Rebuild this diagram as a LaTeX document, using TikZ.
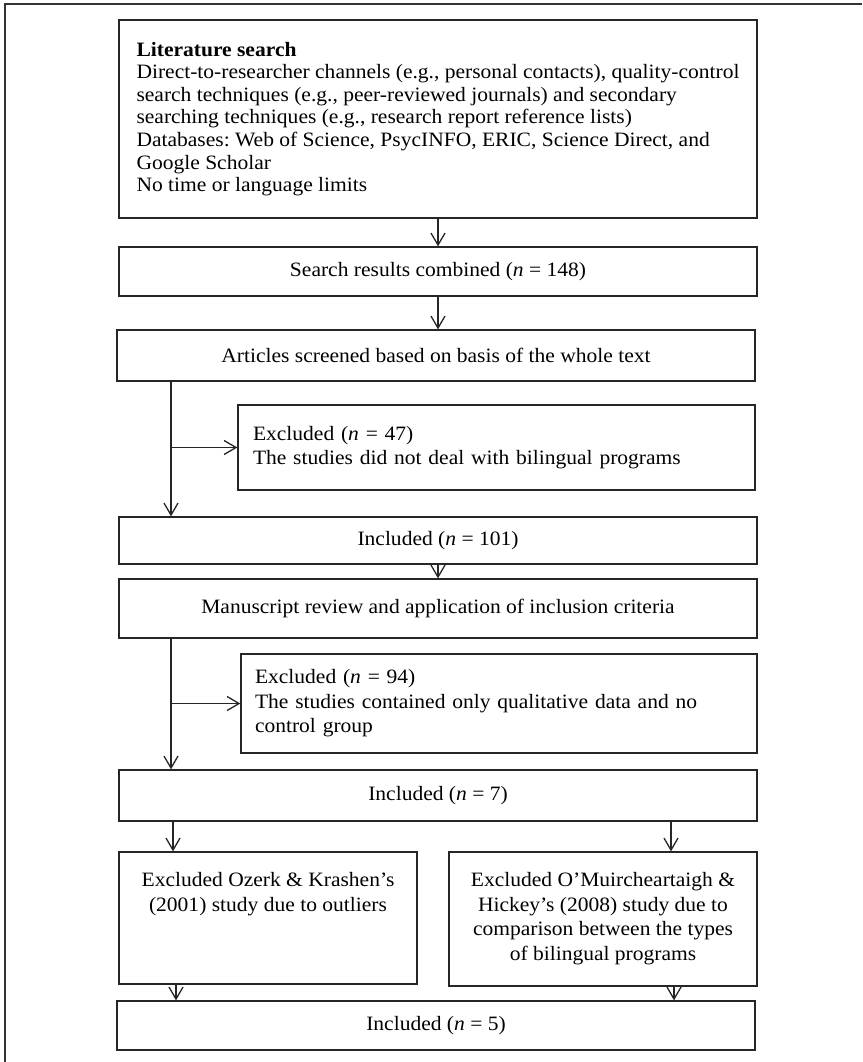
\documentclass[tikz,border=0pt]{standalone}
\usepackage{fontspec}
\setmainfont{Liberation Serif}[FakeStretch=1.055]
\usetikzlibrary{arrows.meta}
\frenchspacing
\begin{document}
\begin{tikzpicture}[x=1pt,y=-1pt,
  frame/.style={draw=black!80, line width=1.3pt},
  box/.style={draw=black!85, line width=1.3pt, inner sep=0pt, font=\fontsize{20.4}{24.5}\selectfont\frenchspacing},
  txt/.style={inner sep=0pt, font=\fontsize{20.4}{24.5}\selectfont\frenchspacing},
  arr/.style={draw=black!85, line width=1.3pt, -{Straight Barb[length=12pt,width=14pt,line width=1.3pt]}}
]
\useasboundingbox (0,0) rectangle (862,1062);
\draw[frame] (5,1062) -- (5,4) -- (862,4);

\node[box, minimum width=638pt, minimum height=198pt, align=left,
      font=\fontsize{20.4}{22.6}\selectfont\frenchspacing] (b1) at (438,119)
 {\textbf{Literature search}\\
  Direct-to-researcher channels (e.g., personal contacts), quality-control\\
  search techniques (e.g., peer-reviewed journals) and secondary\\
  searching techniques (e.g., research report reference lists)\\
  Databases: Web of Science, PsycINFO, ERIC, Science Direct, and\\
  Google Scholar\\
  No time or language limits};

\node[box, minimum width=638pt, minimum height=49pt] (b2) at (438,271.5)
 {Search results combined (\textit{n} = 148)};
\node[box, minimum width=638pt, minimum height=51pt] (b3) at (436,355.5)
 {Articles screened based on basis of the whole text};
\node[box, minimum width=517pt, minimum height=85pt, text width=487pt, align=left] (e1) at (496.5,447.5)
 {Excluded (\textit{n} = 47)\\The studies did not deal with bilingual programs};
\node[box, minimum width=638pt, minimum height=47pt] (i1) at (438,540.5)
 {Included (\textit{n} = 101)};
\node[box, minimum width=638pt, minimum height=59pt] (m) at (438,608.5)
 {Manuscript review and application of inclusion criteria};
\node[box, minimum width=516pt, minimum height=99pt, text width=488pt, align=left] (e2) at (499,703.5)
 {Excluded (\textit{n} = 94)\\The studies contained only qualitative data and no\\control group};
\node[box, minimum width=638pt, minimum height=51pt] (i2) at (438,795.5)
 {Included (\textit{n} = 7)};
\node[box, minimum width=298pt, minimum height=132pt] (oz) at (268,918) {};
\node[txt, anchor=north, align=center] (ozt) at ([yshift=-21pt]oz.north)
 {Excluded Ozerk \& Krashen’s\\(2001) study due to outliers};
\node[box, minimum width=308pt, minimum height=134pt] (om) at (603,919) {};
\node[txt, anchor=north, align=center] (omt) at ([yshift=-21pt]om.north)
 {Excluded O’Muircheartaigh \&\\Hickey’s (2008) study due to\\comparison between the types\\of bilingual programs};
\node[box, minimum width=638pt, minimum height=49pt] (i3) at (436,1025.5)
 {Included (\textit{n} = 5)};

\coordinate (cL) at (171,0);
\coordinate (cA) at (173,0);
\coordinate (cB) at (671,0);
\coordinate (cC) at (176,0);
\coordinate (cD) at (674,0);

\draw[arr] (b1.south) -- (b1.south |- b2.north);
\draw[arr] (b2.south) -- (b2.south |- b3.north);
\draw[arr] (b3.south -| cL) -- (i1.north -| cL);
\draw[arr] (e1.west -| cL) -- (e1.west);
\draw[arr] (i1.south) -- (i1.south |- m.north);
\draw[arr] (m.south -| cL) -- (i2.north -| cL);
\draw[arr] (e2.west -| cL) -- (e2.west);
\draw[arr] (i2.south -| cA) -- (oz.north -| cA);
\draw[arr] (i2.south -| cB) -- (om.north -| cB);
\draw[arr] (oz.south -| cC) -- (i3.north -| cC);
\draw[arr] (om.south -| cD) -- (i3.north -| cD);
\end{tikzpicture}
\end{document}
